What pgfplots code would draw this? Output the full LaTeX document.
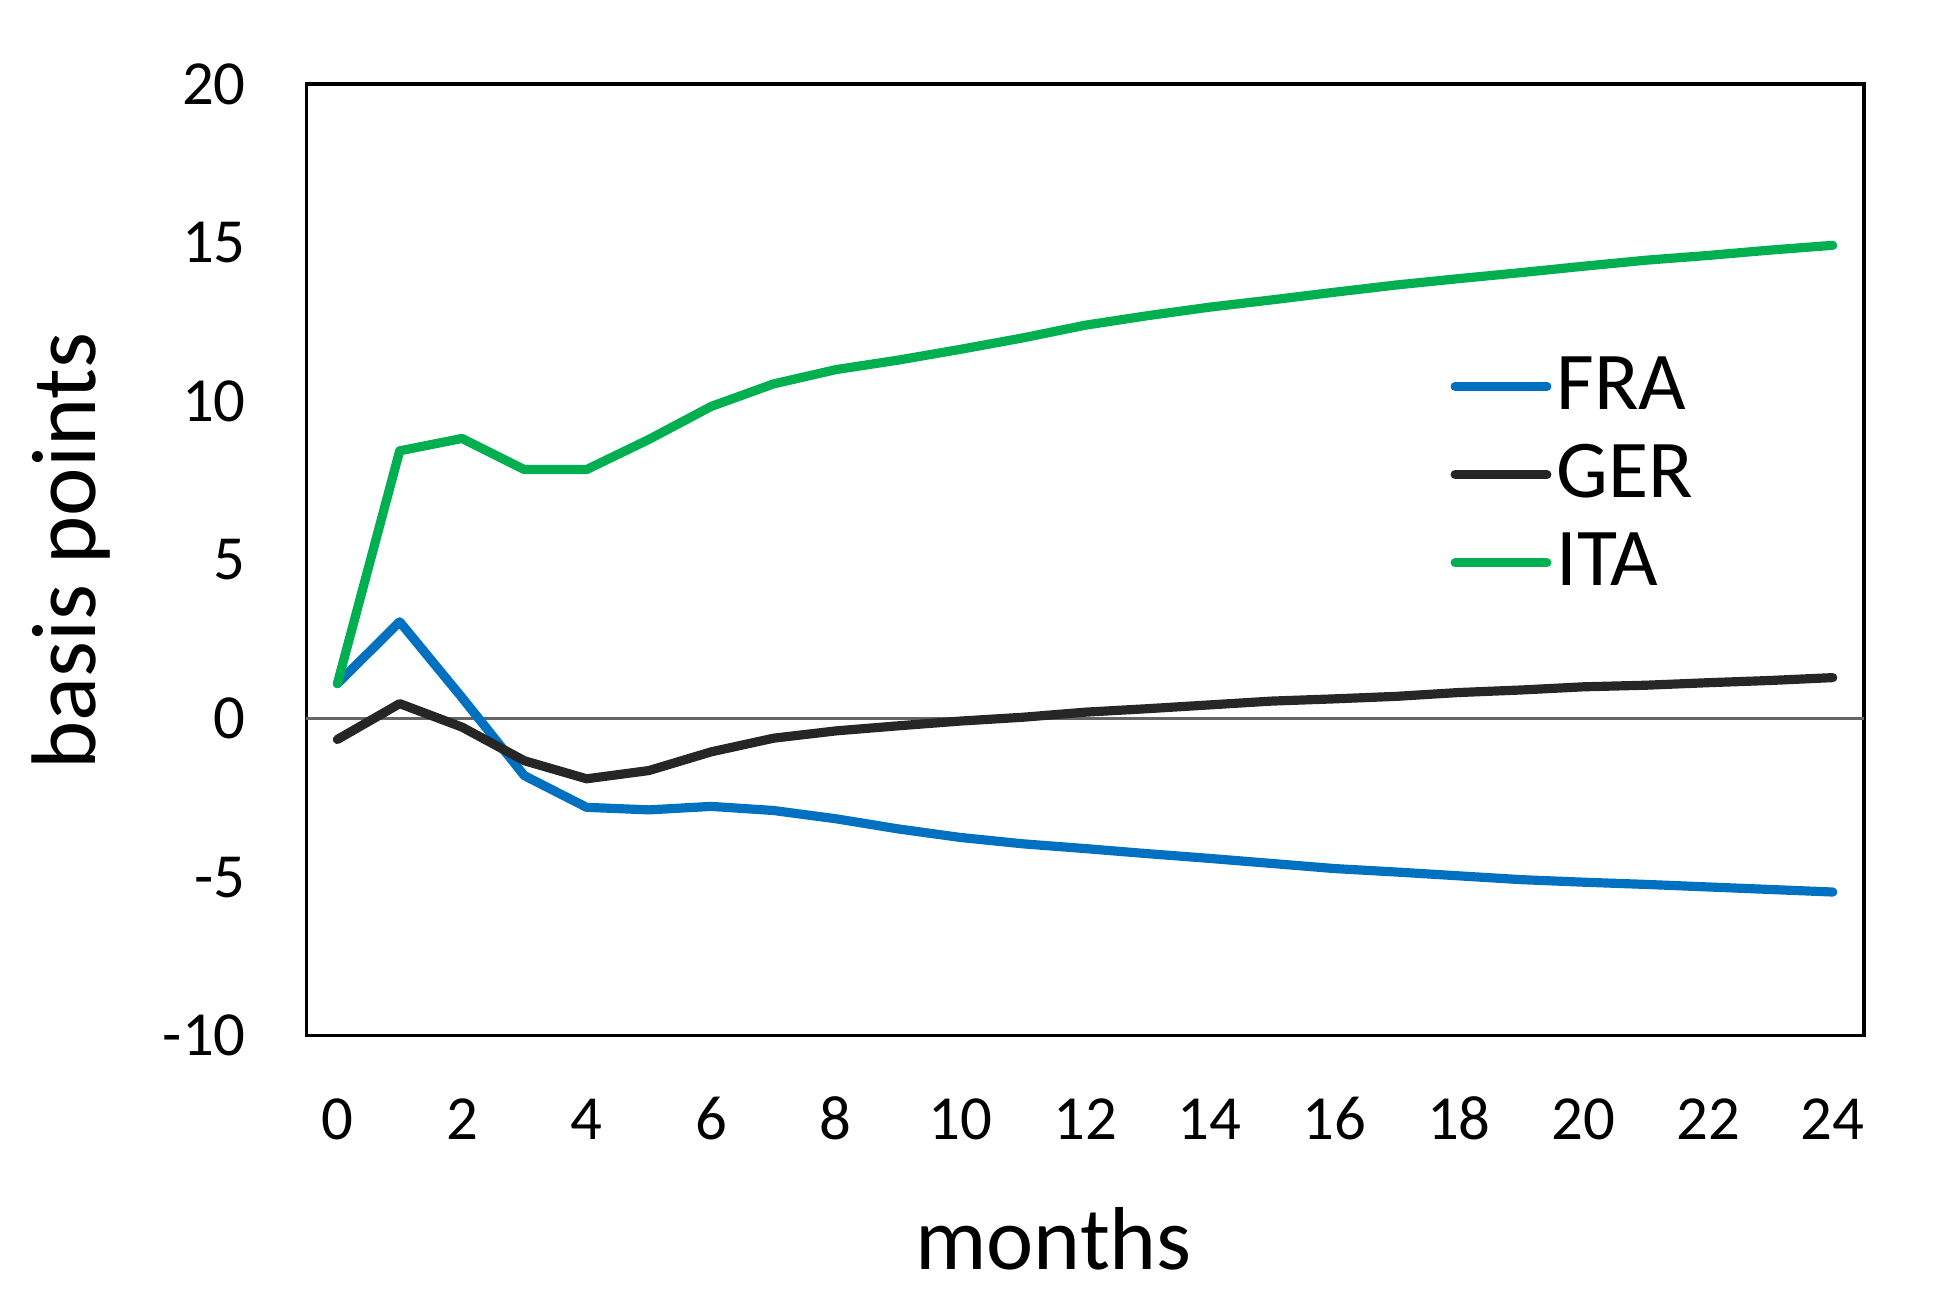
\documentclass[border=0pt]{standalone}
\usepackage{pgfplots}
\pgfplotsset{compat=1.18}
\usepackage{fontspec}
\setmainfont{Carlito}
\definecolor{cfra}{HTML}{0070C0}
\definecolor{cger}{HTML}{262626}
\definecolor{cita}{HTML}{00B050}
\begin{document}
\begin{tikzpicture}
\begin{axis}[
  scale only axis,
  width=322.5pt, height=197pt,
  xmin=-0.5, xmax=24.5, ymin=-10, ymax=20,
  xtick={0,2,...,24}, ytick={-10,-5,0,5,10,15,20},
  major tick length=0pt,
  axis line style={black, line width=0.7pt},
  tick label style={font=\fontsize{13}{15}\selectfont},
  /pgf/number format/assume math mode=true,
  xticklabel style={yshift=-9pt, text height=9pt, text depth=0pt},
  yticklabel style={xshift=-9pt},
  xlabel={months}, ylabel={basis points},
  xlabel style={font=\fontsize{18.5}{21}\selectfont, at={(axis description cs:0.5,0)}, anchor=center, yshift=-42pt, xshift=-6.5pt},
  ylabel style={font=\fontsize{19}{22}\selectfont, at={(axis description cs:0,0.5)}, anchor=center, xshift=1.8pt, yshift=48.7pt},
  legend style={draw=none, fill=none, at={(rel axis cs:0.734,0.720)}, anchor=north west,
    font=\fontsize{17}{20}\selectfont, row sep=3.8pt, inner sep=0pt, nodes={inner sep=1pt}},
  legend cell align=left,
  legend image code/.code={\draw[#1, line width=1.9pt] (0pt,0pt) -- (19pt,0pt);},
  every axis plot/.append style={line width=1.9pt, line join=round, line cap=round, mark=none},
]
\addplot[gray!80!black, line width=0.6pt, forget plot] coordinates {(-0.5,0) (24.5,0)};
\addplot[cfra] coordinates {
(0,1.1) (1,3.05) (2,0.66) (3,-1.8) (4,-2.8) (5,-2.88) (6,-2.77) (7,-2.9) (8,-3.16) (9,-3.48) (10,-3.75) (11,-3.95) (12,-4.1) (13,-4.26) (14,-4.41) (15,-4.57) (16,-4.73) (17,-4.84) (18,-4.96) (19,-5.08) (20,-5.16) (21,-5.23) (22,-5.31) (23,-5.39) (24,-5.47)};
\addlegendentry{FRA}
\addplot[cger] coordinates {
(0,-0.66) (1,0.47) (2,-0.27) (3,-1.33) (4,-1.9) (5,-1.64) (6,-1.05) (7,-0.62) (8,-0.39) (9,-0.23) (10,-0.08) (11,0.04) (12,0.2) (13,0.31) (14,0.43) (15,0.55) (16,0.62) (17,0.7) (18,0.82) (19,0.9) (20,1.0) (21,1.05) (22,1.13) (23,1.2) (24,1.29)};
\addlegendentry{GER}
\addplot[cita] coordinates {
(0,1.1) (1,8.44) (2,8.83) (3,7.85) (4,7.85) (5,8.8) (6,9.84) (7,10.55) (8,11.0) (9,11.3) (10,11.64) (11,12.0) (12,12.4) (13,12.7) (14,12.97) (15,13.2) (16,13.44) (17,13.67) (18,13.87) (19,14.06) (20,14.26) (21,14.45) (22,14.6) (23,14.77) (24,14.92)};
\addlegendentry{ITA}
\coordinate (BL) at (rel axis cs:-0.1966,-0.278);
\coordinate (TR) at (rel axis cs:1.0527,1.0885);
\end{axis}
\pgfresetboundingbox
\path[use as bounding box] (BL) rectangle (TR);
\end{tikzpicture}
\end{document}
